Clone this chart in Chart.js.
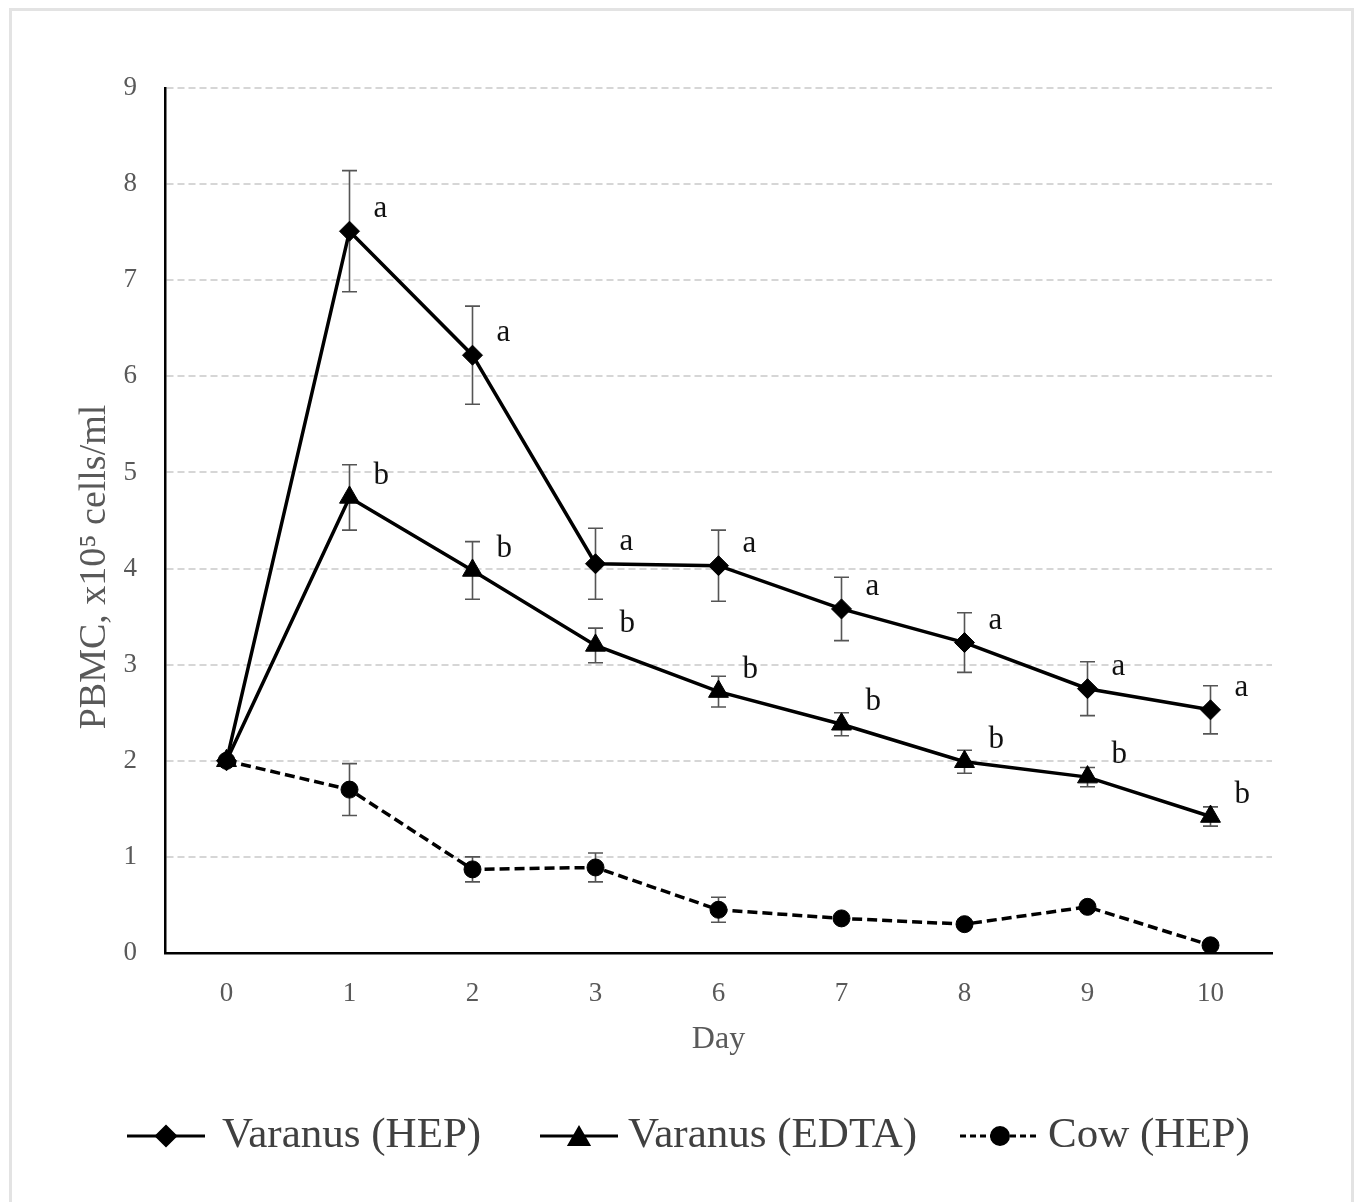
<!DOCTYPE html>
<html>
<head>
<meta charset="utf-8">
<script src="https://cdn.jsdelivr.net/npm/chart.js@4"></script>
<style>
  body { margin: 0; background: #fff; }
  #frame { position: absolute; left: 9px; top: 8px; width: 1339px; height: 1200px;
           border: 3px solid #e3e3e3; border-bottom: none; }
  #chart { position: absolute; left: 0; top: 0; }
</style>
</head>
<body>
<div id="frame"></div>
<canvas id="chart" width="1354" height="1202"></canvas>
<script>
// DATA
let days = ['0', '1', '2', '3', '6', '7', '8', '9', '10'];
let hepValues  = [2.00, 7.51, 6.22, 4.05, 4.03, 3.58, 3.23, 2.75, 2.53];
let hepErr     = [0, 0.63, 0.51, 0.37, 0.37, 0.33, 0.31, 0.28, 0.25];
let hepLetters = ['', 'a', 'a', 'a', 'a', 'a', 'a', 'a', 'a'];
let edtaValues  = [2.00, 4.74, 3.98, 3.20, 2.72, 2.38, 1.99, 1.83, 1.42];
let edtaErr     = [0, 0.34, 0.30, 0.18, 0.16, 0.12, 0.12, 0.10, 0.10];
let edtaLetters = ['', 'b', 'b', 'b', 'b', 'b', 'b', 'b', 'b'];
let cowValues = [2.00, 1.70, 0.87, 0.89, 0.45, 0.36, 0.30, 0.48, 0.08];
let cowErr    = [0, 0.27, 0.13, 0.15, 0.13, 0, 0, 0, 0];
let yTicks = [0, 1, 2, 3, 4, 5, 6, 7, 8, 9];
let yTitle = 'PBMC, x10\u2075 cells/ml';

let serif = "'Liberation Serif', 'Times New Roman', serif";
let textGray = '#595959';

// error bars, drawn under the lines and markers
let errorBars = {
    id: 'errorBars',
    beforeDatasetsDraw(chart) {
        let ctx = chart.ctx, y = chart.scales.y;
        ctx.save();
        ctx.strokeStyle = '#555';
        ctx.lineWidth = 1.6;
        chart.data.datasets.forEach((ds, i) => {
            let meta = chart.getDatasetMeta(i);
            meta.data.forEach((pt, j) => {
                let e = ds.errors[j];
                if (!e) return;
                let top = y.getPixelForValue(ds.data[j] + e);
                let bot = y.getPixelForValue(ds.data[j] - e);
                ctx.beginPath();
                ctx.moveTo(pt.x, top); ctx.lineTo(pt.x, bot);
                ctx.moveTo(pt.x - 7.5, top); ctx.lineTo(pt.x + 7.5, top);
                ctx.moveTo(pt.x - 7.5, bot); ctx.lineTo(pt.x + 7.5, bot);
                ctx.stroke();
            });
        });
        ctx.restore();
    }
};

// significance letters, y title and custom legend
let extras = {
    id: 'extras',
    afterDraw(chart) {
        let ctx = chart.ctx;
        ctx.save();
        ctx.fillStyle = '#111';
        ctx.font = '31px ' + serif;
        ctx.textAlign = 'left';
        ctx.textBaseline = 'middle';
        chart.data.datasets.forEach((ds, i) => {
            if (!ds.letters) return;
            chart.getDatasetMeta(i).data.forEach((pt, j) => {
                if (ds.letters[j]) ctx.fillText(ds.letters[j], pt.x + 24, pt.y - 22);
            });
        });

        // y axis title (sits a bit below the plot centre in the original)
        ctx.save();
        ctx.translate(95, 567);
        ctx.rotate(-Math.PI / 2);
        ctx.fillStyle = textGray;
        ctx.font = '38px ' + serif;
        ctx.textAlign = 'center';
        ctx.fillText(yTitle, 0, 0);
        ctx.restore();

        // legend
        let ly = 1136;
        let items = [
            {x0: 127, x1: 205, style: 'rectRot', r: 9.5, dash: [], tx: 222, label: 'Varanus (HEP)'},
            {x0: 540, x1: 618, style: 'triangle', r: 11, dash: [], tx: 628, label: 'Varanus (EDTA)'},
            {x0: 960, x1: 1040, style: 'circle', r: 8.5, dash: [6, 4], tx: 1048, label: 'Cow (HEP)'}
        ];
        items.forEach(it => {
            ctx.strokeStyle = '#000';
            ctx.lineWidth = 3;
            ctx.setLineDash(it.dash);
            ctx.beginPath();
            ctx.moveTo(it.x0, ly); ctx.lineTo(it.x1, ly);
            ctx.stroke();
            ctx.setLineDash([]);
            ctx.fillStyle = '#000';
            Chart.helpers.drawPoint(ctx, {pointStyle: it.style, radius: it.r, borderWidth: 1, rotation: 0},
                (it.x0 + it.x1) / 2, ly + (it.style === 'triangle' ? 3 : 0));
            ctx.fillStyle = '#404040';
            ctx.font = '43px ' + serif;
            ctx.textAlign = 'left';
            ctx.fillText(it.label, it.tx, ly);
        });
        ctx.restore();
    }
};

let ctx = document.getElementById('chart').getContext('2d');
let lineChart = new Chart(ctx, {
    type: 'line',
    data: {
        labels: days,
        datasets: [{
            label: 'Varanus (HEP)',
            data: hepValues,
            errors: hepErr,
            letters: hepLetters,
            borderColor: '#000',
            backgroundColor: '#000',
            borderWidth: 3.5,
            pointStyle: 'rectRot',
            pointRadius: 10,
            pointBorderWidth: 1
        }, {
            label: 'Varanus (EDTA)',
            data: edtaValues,
            errors: edtaErr,
            letters: edtaLetters,
            borderColor: '#000',
            backgroundColor: '#000',
            borderWidth: 3.5,
            pointStyle: 'triangle',
            pointRadius: 11.5,
            pointBorderWidth: 1
        }, {
            label: 'Cow (HEP)',
            data: cowValues,
            errors: cowErr,
            borderColor: '#000',
            backgroundColor: '#000',
            borderWidth: 3.5,
            borderDash: [10, 5],
            pointStyle: 'circle',
            pointRadius: 8.5,
            pointBorderWidth: 1
        }]
    },
    options: {
        responsive: false,
        animation: false,
        devicePixelRatio: 1,
        layout: { padding: { left: 0, top: 88, right: 82, bottom: 0 } },
        plugins: { legend: { display: false }, tooltip: { enabled: false } },
        scales: {
            x: {
                type: 'category',
                offset: true,
                grid: { display: true, drawOnChartArea: false, drawTicks: false },
                border: { display: true, color: '#000', width: 2.5 },
                ticks: { color: textGray, font: { family: serif, size: 27 }, padding: 25 },
                title: { display: true, text: 'Day', color: textGray,
                         font: { family: serif, size: 32 }, padding: { top: 0, bottom: 143 } },
                afterFit(scale) { scale.height = 249; }
            },
            y: {
                min: 0,
                max: 9,
                afterBuildTicks(scale) { scale.ticks = yTicks.map(v => ({ value: v })); },
                grid: {
                    drawTicks: false,
                    color: c => c.tick && c.tick.value === 0 ? 'rgba(0,0,0,0)' : '#d6d6d6',
                    lineWidth: 2
                },
                border: { display: true, color: '#000', width: 2.5, dash: [7, 4] },
                ticks: { color: textGray, font: { family: serif, size: 27 }, padding: 28 },
                title: { display: false },
                afterFit(scale) { scale.width = 165; }
            }
        }
    },
    plugins: [errorBars, extras]
});
</script>
</body>
</html>
